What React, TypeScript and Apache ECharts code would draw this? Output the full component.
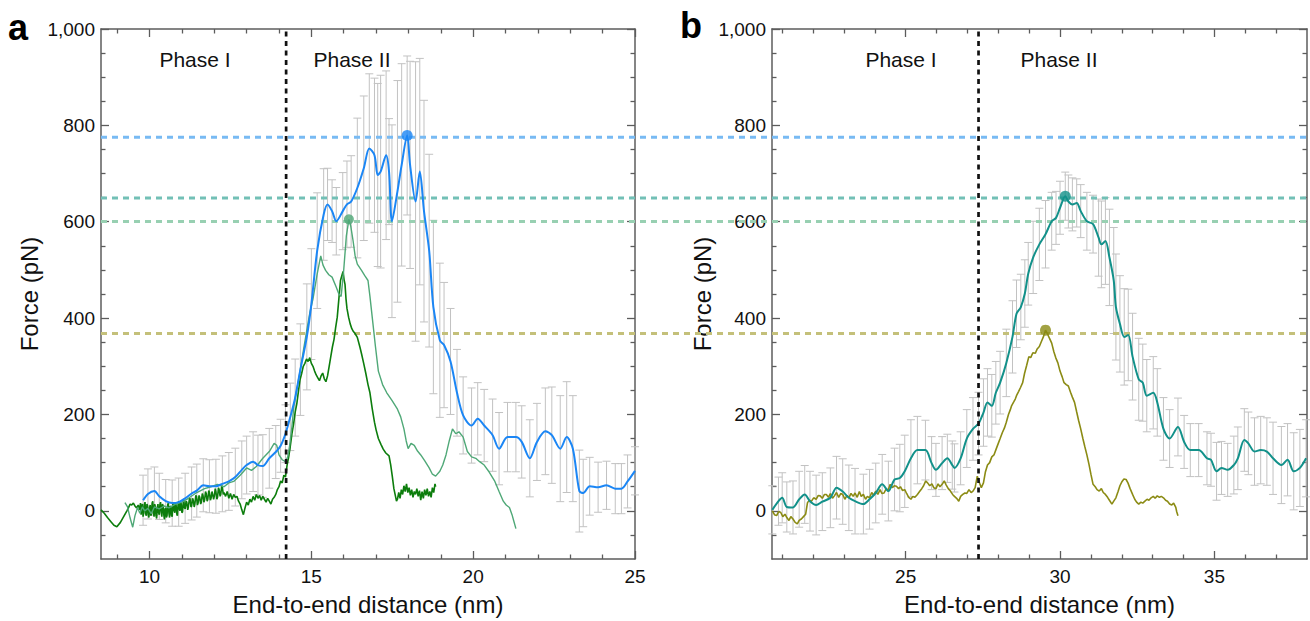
import React, { useEffect, useRef } from "react";
import * as echarts from "echarts";

const FONT = '"Liberation Sans", Arial, Helvetica, sans-serif';

// ---------- axes ----------
const xRangeA = [8.5, 25];
const xMajorA = [10, 15, 20, 25];
const xMinorA = [9, 11, 12, 13, 14, 16, 17, 18, 19, 21, 22, 23, 24];
const xRangeB = [20.67, 38];
const xMajorB = [25, 30, 35];
const xMinorB = [21, 22, 23, 24, 26, 27, 28, 29, 31, 32, 33, 34, 36, 37];
const yRange = [-100, 1000];
const yMajor = [0, 200, 400, 600, 800, 1000];
const yMinor = [-50, 50, 100, 150, 250, 300, 350, 450, 500, 550, 650, 700, 750, 850, 900, 950];

const phaseBoundaryA = 14.22;
const phaseBoundaryB = 27.36;

// reference force levels (dashed horizontals): blue, teal, green, olive
const refForces = [778, 653, 605, 375];

// ---------- panel a ----------
// [distance, mean force, sd]
const blueMeanA: [number, number, number][] = [
  [9.8, 22, 52], [9.95, 35, 52], [10.15, 41, 50], [10.3, 30, 48], [10.5, 20, 45],
  [10.7, 16, 48], [10.9, 18, 50], [11.1, 26, 52], [11.3, 36, 55], [11.46, 42, 55],
  [11.66, 53, 55], [11.85, 51, 55], [12.05, 51, 56], [12.25, 56, 58], [12.45, 61, 60],
  [12.65, 70, 60], [12.85, 85, 60], [13.0, 95, 60], [13.2, 102, 62], [13.35, 95, 62],
  [13.5, 93, 65], [13.7, 109, 62], [13.9, 122, 55], [14.05, 135, 55], [14.2, 160, 60],
  [14.35, 195, 70], [14.5, 235, 80], [14.66, 293, 95], [14.86, 361, 110], [15.0, 429, 115],
  [15.18, 540, 120], [15.38, 615, 95], [15.5, 636, 75], [15.64, 622, 65], [15.77, 601, 70],
  [15.97, 622, 80], [16.1, 636, 90], [16.23, 642, 95], [16.42, 670, 145], [16.62, 711, 150],
  [16.79, 752, 155], [16.95, 738, 160], [17.05, 697, 190], [17.14, 704, 200], [17.31, 738, 175],
  [17.4, 704, 110], [17.49, 601, 200], [17.66, 663, 230], [17.79, 718, 210], [17.96, 779, 165],
  [18.05, 718, 215], [18.22, 642, 290], [18.35, 704, 235], [18.48, 622, 230], [18.64, 540, 200],
  [18.77, 423, 180], [18.97, 354, 160], [19.1, 344, 130], [19.3, 310, 110], [19.5, 245, 90],
  [19.69, 198, 80], [19.95, 177, 78], [20.14, 191, 75], [20.34, 177, 75], [20.6, 157, 75],
  [20.8, 129, 75], [21.06, 153, 72], [21.32, 153, 72], [21.5, 143, 75], [21.75, 109, 80],
  [21.97, 143, 80], [22.23, 165, 90], [22.43, 157, 100], [22.69, 129, 110], [22.89, 153, 115],
  [23.08, 129, 110], [23.28, 41, 85], [23.4, 37, 70], [23.6, 51, 60], [23.86, 49, 52],
  [24.12, 53, 50], [24.39, 46, 52], [24.58, 46, 52], [24.77, 61, 55], [25.0, 83, 50],
];

const lightGreenA: [number, number][] = [
  [9.24, 17], [9.32, 8], [9.4, -15], [9.48, -34], [9.55, -10], [9.63, 7], [9.7, -5], [9.78, 8],
  [9.85, 0], [9.95, 5], [10.05, -6], [10.15, 8], [10.3, 4], [10.45, 10], [10.6, 6], [10.8, 14],
  [11.0, 18], [11.2, 26], [11.46, 38], [11.7, 46], [11.9, 50], [12.1, 55], [12.3, 50], [12.45, 58],
  [12.6, 61], [12.8, 74], [13.0, 89], [13.15, 84], [13.3, 92], [13.5, 109], [13.7, 123], [13.85, 140],
  [13.93, 136], [14.0, 116], [14.1, 106], [14.2, 102], [14.27, 112], [14.33, 136], [14.4, 175],
  [14.46, 218], [14.56, 255], [14.66, 293], [14.76, 335], [14.86, 375], [14.95, 410], [15.05, 440],
  [15.18, 492], [15.29, 529], [15.36, 510], [15.44, 499], [15.54, 490], [15.64, 485], [15.77, 464],
  [15.85, 450], [15.92, 445], [16.0, 500], [16.08, 570], [16.16, 605], [16.22, 590], [16.29, 560],
  [16.35, 530], [16.42, 512], [16.55, 499], [16.65, 488], [16.75, 478], [16.81, 445], [16.9, 390],
  [16.98, 341], [17.07, 290], [17.2, 262], [17.33, 245], [17.5, 228], [17.66, 211], [17.76, 195],
  [17.86, 170], [17.93, 145], [17.99, 129], [18.08, 140], [18.18, 136], [18.28, 124], [18.38, 116],
  [18.5, 104], [18.64, 89], [18.74, 76], [18.84, 72], [18.97, 82], [19.06, 95], [19.16, 116],
  [19.26, 145], [19.36, 170], [19.46, 160], [19.56, 164], [19.69, 153], [19.82, 123], [19.95, 112],
  [20.08, 109], [20.2, 102], [20.34, 95], [20.5, 80], [20.67, 61], [20.8, 40], [20.93, 20],
  [21.02, 12], [21.12, 7], [21.2, -8], [21.25, -20], [21.32, -37],
];

const darkGreenA: [number, number][] = [
  [8.5, 2], [8.6, -5], [8.7, -14], [8.8, -22], [8.9, -30], [8.99, -33], [9.1, -24], [9.2, -12],
  [9.3, 0], [9.34, 5], [9.4, 14], [9.45, 12], [9.5, 16], [9.55, 10], [9.6, 6], [9.65, 12], [9.7, 2],
  [9.72, 16], [9.74, -8], [9.76, 10], [9.78, 14], [9.8, -12], [9.82, -4], [9.84, 12], [9.86, 18],
  [9.88, -6], [9.9, -10], [9.92, 14], [9.94, 10], [9.96, -8], [9.98, -14], [10.0, 6], [10.02, 12],
  [10.04, -10], [10.06, -6], [10.08, 16], [10.1, 20], [10.12, -4], [10.14, -12], [10.16, 14],
  [10.18, 8], [10.2, -10], [10.22, -16], [10.24, 6], [10.26, 14], [10.28, -4], [10.3, -8], [10.32, 12],
  [10.34, 18], [10.36, -2], [10.38, -12], [10.4, 14], [10.42, 10], [10.44, -8], [10.46, -18],
  [10.48, 4], [10.5, 6], [10.52, -14], [10.54, -10], [10.56, 12], [10.58, 16], [10.6, -6], [10.62, -14],
  [10.64, 10], [10.66, 8], [10.68, -10], [10.7, -12], [10.72, 14], [10.74, 18], [10.76, 0], [10.78, -4],
  [10.8, 16], [10.82, 12], [10.84, -6], [10.86, -10], [10.88, 12], [10.9, 20], [10.92, 4], [10.94, 0],
  [10.96, 18], [10.98, 14], [11.0, -4], [11.02, -2], [11.04, 16], [11.06, 22], [11.08, 6], [11.1, 4],
  [11.13, 20], [11.15, 18], [11.18, 2], [11.2, 8], [11.23, 24], [11.25, 26], [11.28, 8], [11.3, 10],
  [11.33, 26], [11.35, 22], [11.38, 8], [11.4, 14], [11.43, 32], [11.45, 30], [11.48, 12], [11.5, 16],
  [11.53, 32], [11.55, 28], [11.58, 14], [11.6, 18], [11.63, 36], [11.65, 32], [11.68, 18], [11.7, 22],
  [11.73, 40], [11.75, 36], [11.78, 20], [11.8, 24], [11.83, 42], [11.85, 38], [11.88, 22], [11.9, 26],
  [11.93, 40], [11.95, 34], [11.98, 24], [12.0, 30], [12.03, 46], [12.05, 40], [12.08, 24], [12.1, 28],
  [12.13, 48], [12.15, 44], [12.18, 30], [12.2, 34], [12.23, 52], [12.25, 48], [12.28, 34], [12.3, 38],
  [12.35, 30], [12.4, 40], [12.45, 26], [12.5, 36], [12.55, 24], [12.6, 34], [12.65, 28], [12.7, 30],
  [12.75, 20], [12.8, 14], [12.85, 2], [12.9, -8], [12.95, 6], [13.0, 18], [13.05, 12], [13.1, 24],
  [13.15, 18], [13.2, 30], [13.25, 22], [13.3, 34], [13.35, 26], [13.4, 32], [13.45, 22], [13.5, 30],
  [13.55, 24], [13.6, 18], [13.65, 26], [13.7, 20], [13.75, 14], [13.8, 24], [13.85, 28], [13.9, 34],
  [13.95, 44], [14.0, 50], [14.05, 62], [14.1, 58], [14.15, 74], [14.2, 70], [14.25, 95], [14.3, 112],
  [14.35, 135], [14.4, 160], [14.45, 180], [14.5, 205], [14.55, 222], [14.6, 248], [14.65, 272],
  [14.7, 285], [14.75, 300], [14.8, 306], [14.85, 315], [14.9, 310], [14.95, 318], [15.0, 306],
  [15.05, 300], [15.1, 290], [15.15, 282], [15.2, 276], [15.25, 270], [15.3, 280], [15.35, 286],
  [15.4, 274], [15.45, 268], [15.5, 280], [15.55, 300], [15.6, 320], [15.65, 340], [15.7, 356],
  [15.75, 380], [15.8, 402], [15.85, 440], [15.9, 478], [15.95, 490], [15.98, 497], [16.01, 480],
  [16.04, 470], [16.07, 440], [16.1, 420], [16.15, 402], [16.2, 388], [16.25, 378], [16.3, 372],
  [16.35, 368], [16.42, 360], [16.5, 340], [16.55, 326], [16.62, 305], [16.68, 286], [16.75, 262],
  [16.81, 245], [16.88, 212], [16.95, 184], [17.0, 168], [17.07, 150], [17.15, 138], [17.22, 128],
  [17.3, 120], [17.4, 114], [17.45, 96], [17.5, 72], [17.55, 46], [17.6, 30], [17.63, 20], [17.66, 24],
  [17.7, 38], [17.74, 26], [17.78, 44], [17.82, 34], [17.86, 52], [17.9, 40], [17.94, 56], [17.98, 38],
  [18.02, 48], [18.06, 32], [18.1, 44], [18.14, 28], [18.18, 40], [18.22, 34], [18.26, 46], [18.3, 30],
  [18.34, 42], [18.38, 22], [18.42, 40], [18.46, 26], [18.5, 44], [18.54, 32], [18.58, 46], [18.62, 30],
  [18.66, 40], [18.7, 28], [18.74, 48], [18.78, 38], [18.82, 56], [18.84, 50],
];

const peakBlueA: [number, number] = [17.96, 779];
const peakLightGreenA: [number, number] = [16.16, 605];

// ---------- panel b ----------
const tealMeanB: [number, number, number][] = [
  [20.68, 2, 50], [20.88, 20, 50], [21.0, 27, 52], [21.15, 8, 52], [21.35, 7, 55], [21.55, 24, 58],
  [21.73, 34, 60], [21.9, 20, 62], [22.1, 12, 62], [22.3, 19, 60], [22.56, 27, 62], [22.76, 48, 65],
  [22.96, 40, 68], [23.16, 27, 68], [23.36, 20, 68], [23.63, 14, 62], [23.83, 24, 62], [24.03, 37, 62],
  [24.24, 55, 62], [24.44, 41, 62], [24.64, 65, 65], [24.81, 68, 70], [24.97, 82, 75], [25.17, 109, 80],
  [25.38, 126, 70], [25.64, 126, 62], [25.84, 99, 55], [25.98, 85, 55], [26.18, 99, 55], [26.35, 109, 50],
  [26.51, 95, 50], [26.58, 89, 50], [26.78, 109, 55], [26.98, 150, 60], [27.18, 170, 65], [27.36, 181, 65],
  [27.52, 204, 70], [27.65, 225, 70], [27.79, 218, 65], [27.92, 245, 65], [28.06, 266, 65], [28.26, 307, 70],
  [28.46, 361, 75], [28.59, 409, 70], [28.73, 423, 68], [28.86, 451, 70], [28.97, 492, 65], [29.13, 526, 75],
  [29.33, 553, 75], [29.53, 574, 70], [29.73, 601, 60], [29.87, 608, 55], [30.0, 629, 55], [30.17, 653, 50],
  [30.27, 642, 55], [30.4, 636, 55], [30.54, 639, 50], [30.67, 622, 55], [30.87, 601, 60], [31.07, 595, 60],
  [31.25, 567, 80], [31.34, 553, 90], [31.47, 560, 90], [31.6, 526, 100], [31.74, 478, 110], [31.81, 423, 110],
  [31.94, 388, 100], [32.08, 361, 100], [32.21, 365, 95], [32.35, 320, 90], [32.55, 273, 85], [32.68, 266, 80],
  [32.81, 239, 75], [33.02, 245, 75], [33.15, 225, 70], [33.35, 170, 65], [33.55, 150, 60], [33.82, 174, 60],
  [34.02, 143, 55], [34.22, 126, 55], [34.49, 126, 55], [34.76, 109, 55], [34.89, 106, 55], [35.07, 82, 60],
  [35.23, 89, 55], [35.43, 85, 55], [35.63, 95, 60], [35.76, 109, 65], [35.97, 147, 65], [36.1, 140, 65],
  [36.3, 123, 70], [36.5, 126, 70], [36.7, 123, 70], [36.9, 109, 75], [37.17, 95, 80], [37.37, 106, 75],
  [37.57, 82, 80], [37.77, 89, 80], [37.97, 109, 80],
];

const oliveB: [number, number][] = [
  [20.68, 0], [20.75, -8], [20.82, -10], [20.88, -2], [20.95, -3], [21.02, -12], [21.09, -7], [21.15, -14],
  [21.22, -20], [21.28, -12], [21.35, -17], [21.42, -24], [21.49, -27], [21.55, -20], [21.62, -17],
  [21.69, -12], [21.76, -7], [21.82, 17], [21.88, 22], [21.95, 20], [22.02, 27], [22.1, 24], [22.17, 32],
  [22.23, 31], [22.3, 26], [22.37, 34], [22.43, 34], [22.5, 28], [22.56, 36], [22.63, 26], [22.69, 31],
  [22.76, 38], [22.83, 28], [22.9, 36], [22.96, 34], [23.03, 24], [23.1, 32], [23.16, 27], [23.23, 36],
  [23.3, 30], [23.36, 37], [23.43, 28], [23.5, 40], [23.56, 30], [23.63, 34], [23.7, 24], [23.76, 30],
  [23.83, 27], [23.9, 38], [23.96, 32], [24.03, 41], [24.1, 34], [24.17, 44], [24.23, 36], [24.3, 37],
  [24.37, 46], [24.43, 42], [24.5, 55], [24.57, 48], [24.63, 52], [24.7, 51], [24.77, 46], [24.83, 50],
  [24.9, 42], [24.97, 44], [25.03, 36], [25.1, 28], [25.17, 24], [25.23, 30], [25.3, 28], [25.38, 34],
  [25.45, 40], [25.52, 46], [25.58, 52], [25.65, 62], [25.71, 58], [25.78, 52], [25.85, 56], [25.91, 48],
  [25.98, 46], [26.05, 56], [26.11, 50], [26.18, 55], [26.25, 62], [26.31, 54], [26.38, 46], [26.45, 41],
  [26.52, 34], [26.58, 30], [26.65, 26], [26.72, 20], [26.78, 30], [26.85, 34], [26.92, 37], [26.98, 36],
  [27.05, 44], [27.12, 38], [27.18, 41], [27.25, 48], [27.32, 72], [27.38, 60], [27.45, 48], [27.52, 58],
  [27.58, 80], [27.65, 95], [27.72, 100], [27.79, 112], [27.86, 116], [27.93, 128], [28.0, 140],
  [28.06, 150], [28.13, 162], [28.2, 172], [28.26, 184], [28.33, 200], [28.39, 210], [28.43, 218],
  [28.5, 226], [28.55, 232], [28.59, 239], [28.66, 248], [28.72, 256], [28.79, 266], [28.85, 285],
  [28.92, 302], [28.99, 320], [29.05, 318], [29.12, 328], [29.2, 327], [29.26, 336], [29.33, 341],
  [29.4, 352], [29.46, 361], [29.53, 375], [29.6, 366], [29.66, 358], [29.73, 348], [29.8, 330],
  [29.86, 318], [29.93, 307], [30.0, 290], [30.07, 278], [30.13, 266], [30.2, 262], [30.27, 259],
  [30.34, 246], [30.4, 236], [30.47, 225], [30.54, 205], [30.6, 188], [30.67, 170], [30.74, 150],
  [30.8, 134], [30.87, 116], [30.94, 96], [31.0, 76], [31.07, 55], [31.14, 50], [31.2, 44], [31.27, 41],
  [31.34, 46], [31.4, 38], [31.47, 34], [31.54, 28], [31.6, 22], [31.68, 14], [31.74, 20], [31.81, 27],
  [31.88, 40], [31.94, 52], [32.01, 61], [32.07, 66], [32.14, 65], [32.2, 58], [32.27, 46], [32.35, 34],
  [32.42, 24], [32.48, 18], [32.55, 14], [32.62, 18], [32.68, 16], [32.75, 20], [32.82, 24], [32.88, 22],
  [32.95, 27], [33.02, 30], [33.08, 26], [33.15, 31], [33.22, 28], [33.28, 30], [33.35, 27], [33.42, 22],
  [33.48, 20], [33.55, 14], [33.62, 12], [33.68, 16], [33.75, 7], [33.78, -2], [33.82, -10],
];

const peakTealB: [number, number] = [30.17, 653];
const peakOliveB: [number, number] = [29.53, 375];

// ---------- styles ----------
const AXIS_COLOR = "#5c5c5c";
const C = {
  blue: "#1b86f5",
  lightGreen: "#4fa877",
  darkGreen: "#0c7d0c",
  teal: "#12918a",
  olive: "#8b8b14",
  err: "#c2c2c2",
  refs: ["#78baf3", "#72c0b6", "#98d0b2", "#c4c07a"],
};

function xAxesFor(gridIndex: number, range: number[], majors: number[], minors: number[]) {
  const lineStyle = { color: AXIS_COLOR, width: 1.5 };
  const tickStyle = { color: AXIS_COLOR, width: 1.3 };
  const base = { type: "value", gridIndex, min: range[0], max: range[1], splitLine: { show: false } };
  return [
    {
      ...base,
      position: "bottom",
      axisLine: { show: true, onZero: false, lineStyle },
      axisTick: { show: true, inside: true, length: 8, customValues: majors, lineStyle: tickStyle },
      axisLabel: { show: true, customValues: majors, margin: 8, fontSize: 19, color: "#111", fontFamily: FONT },
      name: "End-to-end distance (nm)",
      nameLocation: "middle",
      nameGap: 33,
      nameTextStyle: { fontSize: 24, color: "#111", fontFamily: FONT },
    },
    {
      ...base,
      position: "bottom",
      axisLine: { show: false, onZero: false },
      axisTick: { show: true, inside: true, length: 4.5, customValues: minors, lineStyle: tickStyle },
      axisLabel: { show: false },
    },
    {
      ...base,
      position: "top",
      axisLine: { show: true, onZero: false, lineStyle },
      axisTick: { show: true, inside: true, length: 8, customValues: majors, lineStyle: tickStyle },
      axisLabel: { show: false },
    },
    {
      ...base,
      position: "top",
      axisLine: { show: false, onZero: false },
      axisTick: { show: true, inside: true, length: 4.5, customValues: minors, lineStyle: tickStyle },
      axisLabel: { show: false },
    },
  ];
}

function yAxesFor(gridIndex: number, nameGap: number) {
  const lineStyle = { color: AXIS_COLOR, width: 1.5 };
  const tickStyle = { color: AXIS_COLOR, width: 1.3 };
  const base = { type: "value", gridIndex, min: yRange[0], max: yRange[1], splitLine: { show: false } };
  return [
    {
      ...base,
      position: "left",
      axisLine: { show: true, onZero: false, lineStyle },
      axisTick: { show: true, inside: true, length: 8, customValues: yMajor, lineStyle: tickStyle },
      axisLabel: {
        show: true,
        customValues: yMajor,
        margin: 6,
        fontSize: 19,
        color: "#111",
        fontFamily: FONT,
        formatter: (v: number) => (v === 1000 ? "1,000" : String(v)),
      },
      name: "Force (pN)",
      nameLocation: "middle",
      nameGap,
      nameTextStyle: { fontSize: 24, color: "#111", fontFamily: FONT },
    },
    {
      ...base,
      position: "left",
      axisLine: { show: false, onZero: false },
      axisTick: { show: true, inside: true, length: 4.5, customValues: yMinor, lineStyle: tickStyle },
      axisLabel: { show: false },
    },
    {
      ...base,
      position: "right",
      axisLine: { show: true, onZero: false, lineStyle },
      axisTick: { show: true, inside: true, length: 8, customValues: yMajor, lineStyle: tickStyle },
      axisLabel: { show: false },
    },
    {
      ...base,
      position: "right",
      axisLine: { show: false, onZero: false },
      axisTick: { show: true, inside: true, length: 4.5, customValues: yMinor, lineStyle: tickStyle },
      axisLabel: { show: false },
    },
  ];
}

function errorBars(data: [number, number, number][], axisIndex: number) {
  return {
    type: "custom",
    xAxisIndex: axisIndex,
    yAxisIndex: axisIndex,
    z: 1,
    silent: true,
    data,
    encode: { x: 0, y: 1 },
    renderItem: (_p: any, api: any) => {
      const x = api.value(0);
      const m = api.value(1);
      const s = api.value(2);
      const top = api.coord([x, m + s]);
      const bot = api.coord([x, m - s]);
      const cap = 4;
      const style = { stroke: C.err, lineWidth: 1, fill: null };
      return {
        type: "group",
        children: [
          { type: "line", shape: { x1: top[0], y1: top[1], x2: bot[0], y2: bot[1] }, style },
          { type: "line", shape: { x1: top[0] - cap, y1: top[1], x2: top[0] + cap, y2: top[1] }, style },
          { type: "line", shape: { x1: bot[0] - cap, y1: bot[1], x2: bot[0] + cap, y2: bot[1] }, style },
        ],
      };
    },
  };
}

function lineSeries(data: number[][], axisIndex: number, color: string, width: number, z: number, smooth: any = false) {
  return {
    type: "line",
    xAxisIndex: axisIndex,
    yAxisIndex: axisIndex,
    data: data.map((d) => [d[0], d[1]]),
    showSymbol: false,
    symbol: "none",
    smooth,
    z,
    silent: true,
    lineStyle: { color, width },
  };
}

function dot(point: [number, number], axisIndex: number, color: string, size: number) {
  return {
    type: "scatter",
    xAxisIndex: axisIndex,
    yAxisIndex: axisIndex,
    data: [point],
    symbolSize: size,
    itemStyle: { color },
    z: 10,
    silent: true,
  };
}

function phaseLine(x: number, axisIndex: number) {
  return {
    type: "line",
    xAxisIndex: axisIndex,
    yAxisIndex: axisIndex,
    data: [
      [x, yRange[0]],
      [x, yRange[1]],
    ],
    symbol: "none",
    z: 6,
    silent: true,
    lineStyle: { color: "#111", width: 2.7, type: [5, 4.5] },
  };
}

export default function App() {
  const ref = useRef<HTMLDivElement>(null);

  useEffect(() => {
    if (!ref.current) return;
    const chart = echarts.init(ref.current, undefined, { renderer: "svg" });

    const hidden = { show: false };
    const refSeries = refForces.map((v, i) => ({
      type: "line",
      xAxisIndex: 8,
      yAxisIndex: 8,
      data: [
        [0, v],
        [1, v],
      ],
      symbol: "none",
      z: 2,
      silent: true,
      lineStyle: { color: C.refs[i], width: 3, type: [6, 5] },
    }));

    const option: any = {
      animation: false,
      backgroundColor: "#ffffff",
      textStyle: { fontFamily: FONT },
      grid: [
        { left: 101, top: 29, width: 534, height: 536, containLabel: false },
        { left: 772, top: 29, width: 535, height: 536, containLabel: false },
        { left: 101, top: 29, width: 1206, height: 536, containLabel: false },
      ],
      xAxis: [
        ...xAxesFor(0, xRangeA, xMajorA, xMinorA),
        ...xAxesFor(1, xRangeB, xMajorB, xMinorB),
        { type: "value", gridIndex: 2, min: 0, max: 1, ...hidden },
      ],
      yAxis: [
        ...yAxesFor(0, 60),
        ...yAxesFor(1, 57),
        { type: "value", gridIndex: 2, min: yRange[0], max: yRange[1], ...hidden },
      ],
      series: [
        errorBars(blueMeanA, 0),
        errorBars(tealMeanB, 4),
        ...refSeries,
        phaseLine(phaseBoundaryA, 0),
        phaseLine(phaseBoundaryB, 4),
        lineSeries(darkGreenA, 0, C.darkGreen, 1.6, 3),
        lineSeries(lightGreenA, 0, C.lightGreen, 1.4, 4),
        lineSeries(blueMeanA, 0, C.blue, 2, 5, 0.3),
        lineSeries(oliveB, 4, C.olive, 1.6, 3),
        lineSeries(tealMeanB, 4, C.teal, 2, 5, 0.3),
        dot(peakBlueA, 0, C.blue, 11),
        dot(peakLightGreenA, 0, C.lightGreen, 10),
        dot(peakTealB, 4, C.teal, 11),
        dot(peakOliveB, 4, C.olive, 11),
      ],
      graphic: [
        { type: "text", left: 8, top: 9, style: { text: "a", font: `bold 36px ${FONT}`, fill: "#000" } },
        { type: "text", left: 680, top: 7, style: { text: "b", font: `bold 36px ${FONT}`, fill: "#000" } },
        { type: "text", x: 195, y: 59, style: { text: "Phase I", font: `21px ${FONT}`, fill: "#111", align: "center", verticalAlign: "middle" } },
        { type: "text", x: 352, y: 59, style: { text: "Phase II", font: `21px ${FONT}`, fill: "#111", align: "center", verticalAlign: "middle" } },
        { type: "text", x: 901, y: 59, style: { text: "Phase I", font: `21px ${FONT}`, fill: "#111", align: "center", verticalAlign: "middle" } },
        { type: "text", x: 1059, y: 59, style: { text: "Phase II", font: `21px ${FONT}`, fill: "#111", align: "center", verticalAlign: "middle" } },
      ],
    };

    chart.setOption(option);
    return () => chart.dispose();
  }, []);

  return (
    <div
      ref={ref}
      style={{ position: "absolute", left: 0, top: 0, width: 1310, height: 621, background: "#fff" }}
    />
  );
}
